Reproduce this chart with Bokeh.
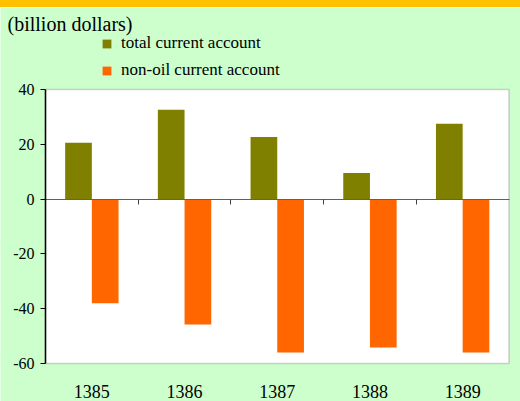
from bokeh.plotting import figure
from bokeh.models import (ColumnDataSource, LinearAxis, FixedTicker, Div, Label,
                          Legend, LegendItem, BoxAnnotation)
from bokeh.layouts import column
from bokeh.transform import dodge
from bokeh.embed import file_html
from bokeh.resources import INLINE

years = ["1385", "1386", "1387", "1388", "1389"]
total_current = [20.6, 32.6, 22.7, 9.5, 27.5]
non_oil_current = [-38.0, -45.8, -56.0, -54.2, -56.0]
y_ticks = [-60, -40, -20, 0, 20, 40]
y_min, y_max = -60, 40

FONT = "'Liberation Serif', 'Times New Roman', serif"
BG = "#CCFFCC"
OLIVE = "#808000"
ORANGE = "#FF6600"

idx = list(range(1, len(years) + 1))
src = ColumnDataSource(dict(x=idx, total=total_current, nonoil=non_oil_current))

# ---- layout geometry (pixels, within the figure canvas) ----
W, H = 520, 394
BAND_H = 7
AREA_L, AREA_R = 45, 508.5      # plot area left/right
AREA_T, AREA_B = 82, 356        # plot area top/bottom
n = len(years)
xppu = (AREA_R - AREA_L) / n
yppu = (AREA_B - AREA_T) / (y_max - y_min)
x_start = 0.5 - AREA_L / xppu
x_end = n + 0.5 + (W - AREA_R) / xppu
y_end = y_max + AREA_T / yppu
y_start = y_min - (H - AREA_B) / yppu

p = figure(width=W, height=H, x_range=(x_start, x_end), y_range=(y_start, y_end),
           output_backend="svg", toolbar_location=None,
           x_axis_type=None, y_axis_type=None,
           min_border_left=0, min_border_right=0, min_border_top=0, min_border_bottom=0)
p.background_fill_color = BG
p.border_fill_color = BG
p.outline_line_color = None
p.grid.visible = False

# white plot area
p.add_layout(BoxAnnotation(left=0.5, right=n + 0.5, bottom=y_min, top=y_max,
                           fill_color="white", fill_alpha=1, line_color="#6E6E6E",
                           line_width=1.6, level="underlay"))

bw = 0.288
r1 = p.vbar(x=dodge("x", -bw / 2), top="total", bottom=0, width=bw, source=src,
            fill_color=OLIVE, line_color=None)
r2 = p.vbar(x=dodge("x", bw / 2), top="nonoil", bottom=0, width=bw, source=src,
            fill_color=ORANGE, line_color=None)

# y axis at the plot area's left edge
y_axis = LinearAxis(fixed_location=0.5, bounds=(y_min, y_max),
                    ticker=FixedTicker(ticks=y_ticks),
                    major_label_overrides={t: str(t) for t in y_ticks},
                    axis_line_color="black", axis_line_width=1.5,
                    major_tick_out=5, major_tick_in=0, major_tick_line_color="black",
                    minor_tick_line_color=None, major_label_text_font=FONT,
                    major_label_text_font_size="16px", major_label_text_color="black",
                    major_label_standoff=6)
p.add_layout(y_axis, "left")

# zero line with ticks between categories
zero_axis = LinearAxis(fixed_location=0, bounds=(0.5, n + 0.5),
                       ticker=FixedTicker(ticks=[i + 0.5 for i in idx[:-1]]),
                       axis_line_color="#606060", axis_line_width=1,
                       major_tick_line_color="#404040", major_tick_out=5, major_tick_in=0,
                       minor_tick_line_color=None, major_label_text_font_size="0px",
                       major_label_text_alpha=0)
p.add_layout(zero_axis, "below")

# category labels below the plot area
cat_axis = LinearAxis(fixed_location=y_min, ticker=FixedTicker(ticks=idx),
                      major_label_overrides={i: y for i, y in zip(idx, years)},
                      axis_line_color=None, major_tick_line_color=None,
                      minor_tick_line_color=None, major_label_text_font=FONT,
                      major_label_text_font_size="18px", major_label_text_color="black",
                      major_label_standoff=15)
p.add_layout(cat_axis, "below")

# unit title
p.add_layout(Label(x=7, y=H - 16, x_units="screen", y_units="screen",
                   text="(billion dollars)", text_font=FONT, text_font_size="20px",
                   text_color="black", text_baseline="middle"))

# legend
legend = Legend(items=[LegendItem(label="total current account", renderers=[r1]),
                       LegendItem(label="non-oil current account", renderers=[r2])],
                location=(101, H - 73), background_fill_alpha=0, border_line_color=None,
                label_text_font=FONT, label_text_font_size="17px", label_text_color="black",
                glyph_width=11, glyph_height=11, label_height=20, label_standoff=9,
                spacing=7, padding=0, margin=0)
p.add_layout(legend, "center")

band = Div(width=W, height=BAND_H, margin=0, styles={"background-color": "#FFC000"})
layout = column(band, p, spacing=0)

open("out.html", "w").write(file_html(layout, INLINE))
